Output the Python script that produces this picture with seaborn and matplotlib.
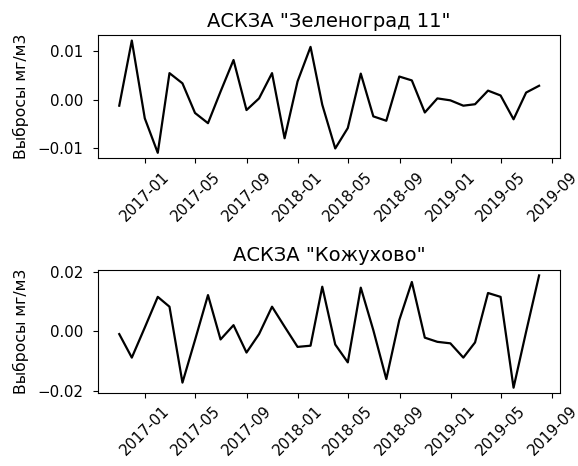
import numpy as np
import pandas as pd
import matplotlib
matplotlib.use("Agg")
import matplotlib.pyplot as plt
import matplotlib.dates as mdates
import seaborn as sns

dates = pd.date_range("2016-10-31", periods=34, freq="ME")

zelenograd = [-0.0012, 0.0122, -0.0038, -0.0109, 0.0055, 0.0034, -0.0027, -0.0048,
              0.0017, 0.0082, -0.0021, 0.0003, 0.0055, -0.0079, 0.0038, 0.0109,
              -0.0010, -0.0100, -0.0058, 0.0054, -0.0034, -0.0043, 0.0048, 0.0040,
              -0.0026, 0.0003, -0.0001, -0.0012, -0.0009, 0.0019, 0.0009, -0.0040,
              0.0015, 0.0029]

kozhukhovo = [-0.0010, -0.0089, 0.0012, 0.0115, 0.0082, -0.0173, -0.0030, 0.0121,
              -0.0028, 0.0020, -0.0072, -0.0010, 0.0082, 0.0015, -0.0053, -0.0049,
              0.0149, -0.0045, -0.0105, 0.0146, 0.0003, -0.0161, 0.0037, 0.0165,
              -0.0022, -0.0036, -0.0041, -0.0089, -0.0038, 0.0128, 0.0115, -0.0190,
              -0.0002, 0.0187]

titles = ['АСКЗА "Зеленоград 11"', 'АСКЗА "Кожухово"']
ylabel = "Выбросы мг/м3"

plt.rcParams["font.family"] = ["DejaVu Sans"]
plt.rcParams["font.size"] = 11

fig = plt.figure(figsize=(5.78, 4.66), dpi=100)
ax1 = fig.add_axes([0.170, 0.660, 0.799, 0.265])
ax2 = fig.add_axes([0.170, 0.156, 0.799, 0.265])

df1 = pd.DataFrame({"date": dates, "value": zelenograd})
df2 = pd.DataFrame({"date": dates, "value": kozhukhovo})

for ax, df, title, yt in [(ax1, df1, titles[0], [-0.01, 0.0, 0.01]),
                          (ax2, df2, titles[1], [-0.02, 0.0, 0.02])]:
    sns.lineplot(data=df, x="date", y="value", ax=ax, color="black", linewidth=1.6)
    ax.set_title(title, fontsize=14)
    ax.set_xlabel("")
    ax.set_ylabel(ylabel, fontsize=11.3, labelpad=6)
    ax.set_yticks(yt)
    ax.xaxis.set_major_locator(mdates.MonthLocator(bymonth=[1, 5, 9]))
    ax.xaxis.set_major_formatter(mdates.DateFormatter("%Y-%m"))
    ax.tick_params(axis="x", rotation=45, labelsize=10.8, pad=4)
    ax.tick_params(axis="y", labelsize=10.8, pad=7)

fig.savefig("out.png", dpi=100)
